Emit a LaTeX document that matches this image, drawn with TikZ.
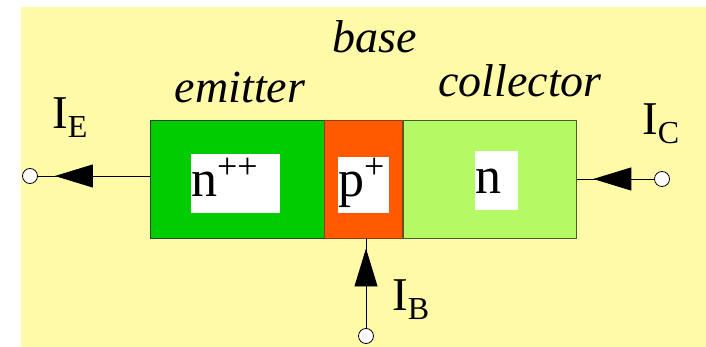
\documentclass[tikz,border=0pt]{standalone}
\usepackage{fontspec}
\setmainfont{LiberationSerif-Regular.ttf}[ItalicFont=LiberationSerif-Italic.ttf]
\usepackage{tikz}
\usetikzlibrary{arrows.meta, positioning, decorations.markings}
\definecolor{bgyellow}{HTML}{FFFAA8}
\definecolor{emgreen}{HTML}{00CC00}
\definecolor{emedge}{HTML}{1F4A1F}
\definecolor{baseorange}{HTML}{FF5A00}
\definecolor{baseedge}{HTML}{9A3A10}
\definecolor{colgreen}{HTML}{B4FA64}
\definecolor{coledge}{HTML}{44602C}
\newcommand{\cursub}[1]{\raisebox{-9pt}{\fontsize{32}{32}\selectfont #1}}
\newcommand{\dopsup}[1]{\raisebox{18pt}{\fontsize{36}{36}\selectfont #1}}
\tikzset{
  region/.style={rectangle, minimum height=118pt, inner sep=0pt, line width=0.9pt},
  emitterbox/.style ={region, fill=emgreen,    draw=emedge,   minimum width=174pt},
  basebox/.style    ={region, fill=baseorange, draw=baseedge, minimum width=78pt},
  collbox/.style    ={region, fill=colgreen,   draw=coledge,  minimum width=173pt},
  dop/.style={fill=white, inner sep=0pt, align=left,
              font=\fontsize{52}{52}\selectfont},
  tag/.style={font=\itshape\fontsize{46}{46}\selectfont, inner sep=0pt, anchor=base},
  cur/.style={font=\fontsize{47}{47}\selectfont, inner sep=0pt, anchor=base west},
  term/.style={circle, draw, fill=white, minimum size=15pt, inner sep=0pt, line width=0.8pt},
  lead/.style={line width=0.8pt, postaction={decorate},
               decoration={markings, mark=at position #1 with
                 {\arrow{Triangle[length=38pt,width=23pt]}}}},
}
\begin{document}
\begin{tikzpicture}[x=1pt, y=-1pt]
  \useasboundingbox (0,0) rectangle (706,347);
  \fill[bgyellow] (21,7) rectangle (706,347);

  % ── Regions ──────────────────────────────────────────────────────────────
  \node[emitterbox] (emitter) at (237,179) {};
  \node[basebox, right=0pt of emitter] (base) {};
  \node[collbox, right=0pt of base] (collector) {};

  % ── Doping labels ────────────────────────────────────────────────────────
  \node[dop, text width=89pt, text height=43pt, text depth=16pt] (ndop) at (235.5,183.5) {n\dopsup{++}};
  \node[dop, text width=51pt, text height=40pt, text depth=16pt] (pdop) at (363.5,185) {p\dopsup{+}};
  \node[dop, text width=43pt, text height=43pt, text depth=16pt] (cdop) at (496.5,180.5) {n};

  % ── Region names ─────────────────────────────────────────────────────────
  \node[tag] (emname)   at (240,103) {emitter};
  \node[tag] (basename) at (375,53)  {base};
  \node[tag] (colname)  at (520,97)  {collector};

  % ── Terminals ────────────────────────────────────────────────────────────
  \node[term] (ecirc) at (30,176)  {};
  \node[term] (ccirc) at (662,179) {};
  \node[term] (bcirc) at (366,336) {};

  % ── Leads ────────────────────────────────────────────────────────────────
  \draw[lead=-17pt] (ecirc -| emitter.west) -- (ecirc);
  \draw[lead=-16pt] (ccirc) -- (ccirc -| collector.east);
  \draw[lead=-10pt] (bcirc) -- (bcirc |- base.south);

  % ── Currents ─────────────────────────────────────────────────────────────
  \node[cur] (ie) at (52,129)  {I\cursub{E}};
  \node[cur] (ic) at (642,135) {I\cursub{C}};
  \node[cur] (ib) at (392,310) {I\cursub{B}};

\end{tikzpicture}
\end{document}
